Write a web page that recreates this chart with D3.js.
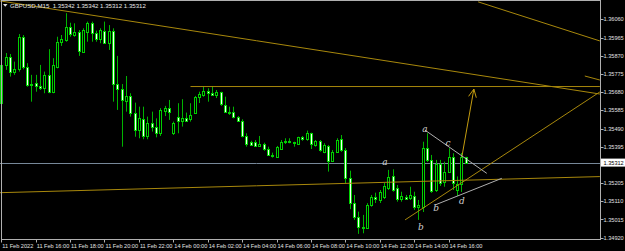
<!DOCTYPE html>
<html>
<head>
<meta charset="utf-8">
<script src="https://cdn.jsdelivr.net/npm/d3@7"></script>
<style>
  body { margin: 0; background: #000; }
  svg { display: block; }
  text { font-family: "Liberation Sans", Arial, sans-serif; }
</style>
</head>
<body>
<div id="chart"></div>
<script>
// GBPUSD M15, 11 Feb 2022 14:00 .. 14 Feb 2022 17:00 (one entry per bar)
const opens = [1.35623,1.35822,1.35865,1.35787,1.35799,1.35969,1.35810,1.35722,1.35726,1.35712,
  1.35700,1.35770,1.35682,1.35813,1.35943,1.35952,1.36022,1.35978,1.35994,1.35891,
  1.35995,1.36039,1.35987,1.35957,1.36001,1.35938,1.36001,1.35722,1.35695,1.35635,
  1.35660,1.35570,1.35482,1.35538,1.35451,1.35517,1.35496,1.35465,1.35583,1.35596,
  1.35468,1.35549,1.35528,1.35543,1.35538,1.35570,1.35653,1.35665,1.35686,1.35677,
  1.35665,1.35679,1.35613,1.35578,1.35578,1.35549,1.35531,1.35451,1.35418,1.35420,
  1.35399,1.35409,1.35383,1.35352,1.35343,1.35385,1.35418,1.35426,1.35421,1.35409,
  1.35444,1.35435,1.35465,1.35404,1.35425,1.35369,1.35400,1.35321,1.35369,1.35434,
  1.35378,1.35230,1.35100,1.35027,1.34978,1.34972,1.35091,1.35131,1.35117,1.35133,
  1.35180,1.35242,1.35178,1.35121,1.35131,1.35126,1.35138,1.35079,1.35082,1.35387,
  1.35326,1.35169,1.35305,1.35213,1.35265,1.35343,1.35170,1.35200,1.35342];
const highs = [1.35837,1.35884,1.35879,1.35839,1.35983,1.35978,1.35831,1.35770,1.35770,1.35822,
  1.35787,1.35904,1.35857,1.35969,1.35978,1.36092,1.36042,1.36039,1.36004,1.36013,
  1.36048,1.36048,1.36001,1.36013,1.36048,1.36030,1.36013,1.35869,1.35722,1.35764,
  1.35674,1.35625,1.35604,1.35604,1.35552,1.35578,1.35543,1.35596,1.35608,1.35639,
  1.35526,1.35622,1.35643,1.35573,1.35622,1.35660,1.35682,1.35708,1.35700,1.35712,
  1.35691,1.35682,1.35656,1.35604,1.35604,1.35555,1.35538,1.35465,1.35426,1.35430,
  1.35451,1.35416,1.35395,1.35364,1.35399,1.35430,1.35439,1.35439,1.35421,1.35447,
  1.35451,1.35479,1.35468,1.35430,1.35430,1.35413,1.35404,1.35378,1.35439,1.35456,
  1.35388,1.35270,1.35143,1.35056,1.35039,1.35100,1.35143,1.35155,1.35169,1.35206,
  1.35274,1.35277,1.35195,1.35160,1.35143,1.35186,1.35160,1.35117,1.35421,1.35465,
  1.35352,1.35326,1.35326,1.35317,1.35387,1.35361,1.35240,1.35362,1.35342];
const lows = [1.35597,1.35796,1.35761,1.35770,1.35787,1.35799,1.35708,1.35630,1.35682,1.35691,
  1.35674,1.35674,1.35674,1.35804,1.35921,1.35943,1.35969,1.35969,1.35869,1.35886,
  1.35943,1.35943,1.35943,1.35935,1.35935,1.35900,1.35630,1.35587,1.35395,1.35578,
  1.35552,1.35447,1.35439,1.35434,1.35434,1.35474,1.35444,1.35451,1.35555,1.35535,
  1.35456,1.35465,1.35500,1.35526,1.35526,1.35566,1.35623,1.35656,1.35630,1.35660,
  1.35649,1.35608,1.35573,1.35561,1.35543,1.35526,1.35444,1.35395,1.35399,1.35395,
  1.35395,1.35374,1.35347,1.35338,1.35338,1.35378,1.35409,1.35413,1.35395,1.35404,
  1.35426,1.35426,1.35383,1.35395,1.35369,1.35361,1.35265,1.35315,1.35362,1.35368,
  1.35204,1.35069,1.35013,1.34940,1.34943,1.34969,1.35082,1.35101,1.35101,1.35122,
  1.35169,1.35160,1.35108,1.35108,1.35117,1.35117,1.35065,1.35013,1.35054,1.35315,
  1.35154,1.35159,1.35190,1.35186,1.35258,1.35169,1.35138,1.35159,1.35312];
const closes = [1.35822,1.35865,1.35787,1.35799,1.35966,1.35810,1.35717,1.35717,1.35712,1.35700,
  1.35770,1.35682,1.35822,1.35943,1.35956,1.36022,1.35983,1.35994,1.35896,1.36004,
  1.36039,1.35987,1.35957,1.36004,1.35938,1.36001,1.35722,1.35695,1.35639,1.35660,
  1.35570,1.35482,1.35543,1.35451,1.35517,1.35500,1.35468,1.35587,1.35599,1.35575,
  1.35517,1.35531,1.35545,1.35529,1.35561,1.35653,1.35670,1.35686,1.35676,1.35665,
  1.35681,1.35618,1.35578,1.35573,1.35549,1.35531,1.35451,1.35408,1.35404,1.35400,
  1.35409,1.35383,1.35352,1.35347,1.35392,1.35420,1.35425,1.35418,1.35416,1.35444,
  1.35435,1.35465,1.35409,1.35426,1.35378,1.35404,1.35321,1.35369,1.35430,1.35378,
  1.35230,1.35100,1.35027,1.34978,1.34972,1.35091,1.35131,1.35121,1.35160,1.35190,
  1.35237,1.35169,1.35121,1.35138,1.35124,1.35143,1.35082,1.35091,1.35387,1.35326,
  1.35166,1.35305,1.35204,1.35265,1.35343,1.35204,1.35200,1.35343,1.35312];

const timeTickBars = [0, 8, 16, 24, 32, 40, 48, 56, 64, 72, 80, 88, 96, 104];
const timeTickLabels = ['11 Feb 2022', '11 Feb 16:00', '11 Feb 18:00', '11 Feb 20:00', '11 Feb 22:00',
  '14 Feb 00:00', '14 Feb 02:00', '14 Feb 04:00', '14 Feb 06:00', '14 Feb 08:00',
  '14 Feb 10:00', '14 Feb 12:00', '14 Feb 14:00', '14 Feb 16:00'];
const priceTicks = [1.36060, 1.35965, 1.35870, 1.35775, 1.35680, 1.35585, 1.35490, 1.35395,
  1.35205, 1.35110, 1.35015, 1.34920];
const bidPrice = 1.35312;
const legendText = 'GBPUSD,M15  1.35342 1.35342 1.35312 1.35312';

// drawn objects, anchors as [bar, price]
const goldLines = [
  [[-0.3, 1.36156], [139.2, 1.35670]],
  [[110.9, 1.36151], [139.2, 1.35947]],
  [[135.7, 1.35764], [139.2, 1.35743]],
  [[44, 1.35709], [139.2, 1.35709]],
  [[93.9, 1.35013], [139.2, 1.35681]],
  [[-0.3, 1.35155], [139.2, 1.35239]]
];
const arrowLine = [[107.1, 1.35341], [109.9, 1.35696]];
const waveLines = [
  [[98.5, 1.35482], [112.9, 1.35256]],
  [[100.9, 1.35091], [116.4, 1.35230]]
];
const waveLabelBars = [98.5, 103.9, 101.1, 107.1, 89.2, 97.6];
const waveLabelPrices = [1.35488, 1.35415, 1.35077, 1.35113, 1.35315, 1.34976];
const waveLabelTexts = ['a', 'c', 'b', 'd', 'a', 'b'];

class CandleChart {
  constructor(_config) {
    this.config = {
      parentElement: _config.parentElement,
      containerWidth: 625,
      containerHeight: 251,
      plotRight: 600.5,
      plotBottom: 239.5,
      barSpacing: 4.3,
      firstBarX: 1.3,
      axisFont: '5.6px',
      legendFont: '6.1px'
    };
    this.initVis();
  }

  initVis() {
    let vis = this;
    vis.svg = d3.select(vis.config.parentElement)
      .append('svg')
      .attr('width', vis.config.containerWidth)
      .attr('height', vis.config.containerHeight)
      .style('background', '#000');

    vis.xScale = d3.scaleLinear()
      .domain([0, 1])
      .range([vis.config.firstBarX, vis.config.firstBarX + vis.config.barSpacing]);

    vis.yScale = d3.scaleLinear()
      .domain([1.34920, 1.36060])
      .range([237.7, 19.3]);

    vis.svg.append('clipPath').attr('id', 'plot-clip')
      .append('rect')
      .attr('x', 0).attr('y', 0)
      .attr('width', vis.config.plotRight)
      .attr('height', vis.config.plotBottom);

    vis.plot = vis.svg.append('g').attr('clip-path', 'url(#plot-clip)');
    vis.renderVis();
  }

  renderVis() {
    let vis = this;
    const x = vis.xScale, y = vis.yScale;
    const bars = d3.range(opens.length);
    const fs = vis.config.axisFont;

    // bid line
    vis.plot.append('line')
      .attr('x1', 0).attr('x2', vis.config.plotRight)
      .attr('y1', Math.round(y(bidPrice)) + 0.5).attr('y2', Math.round(y(bidPrice)) + 0.5)
      .attr('stroke', '#778899');

    // candles
    const candle = vis.plot.append('g').selectAll('g')
      .data(bars)
      .join('g');

    candle.append('line')
      .attr('x1', i => Math.round(x(i)) + 0.5)
      .attr('x2', i => Math.round(x(i)) + 0.5)
      .attr('y1', i => y(highs[i]))
      .attr('y2', i => y(lows[i]))
      .attr('stroke', '#00b400');

    candle.append('rect')
      .attr('x', i => Math.round(x(i)) - 0.5)
      .attr('width', 2)
      .attr('y', i => Math.round(y(Math.max(opens[i], closes[i]))) + 0.5)
      .attr('height', i => Math.max(0, Math.round(y(Math.min(opens[i], closes[i]))) - Math.round(y(Math.max(opens[i], closes[i])))))
      .attr('fill', i => closes[i] < opens[i] ? '#f4fff4' : '#000000')
      .attr('stroke', '#00d000');

    // trend lines
    vis.plot.append('g').selectAll('line')
      .data(goldLines)
      .join('line')
      .attr('x1', d => x(d[0][0])).attr('y1', d => y(d[0][1]))
      .attr('x2', d => x(d[1][0])).attr('y2', d => y(d[1][1]))
      .attr('stroke', '#a8880c')
      .attr('stroke-width', 1);

    // arrow
    const ax1 = x(arrowLine[0][0]), ay1 = y(arrowLine[0][1]);
    const ax2 = x(arrowLine[1][0]), ay2 = y(arrowLine[1][1]);
    const ang = Math.atan2(ay2 - ay1, ax2 - ax1);
    const head = 9, spread = 0.45;
    vis.plot.append('path')
      .attr('d', `M${ax1},${ay1}L${ax2},${ay2}` +
        `M${ax2 - head * Math.cos(ang - spread)},${ay2 - head * Math.sin(ang - spread)}L${ax2},${ay2}` +
        `L${ax2 - head * Math.cos(ang + spread)},${ay2 - head * Math.sin(ang + spread)}`)
      .attr('fill', 'none')
      .attr('stroke', '#c49c10');

    // wave triangle
    vis.plot.append('g').selectAll('line')
      .data(waveLines)
      .join('line')
      .attr('x1', d => x(d[0][0])).attr('y1', d => y(d[0][1]))
      .attr('x2', d => x(d[1][0])).attr('y2', d => y(d[1][1]))
      .attr('stroke', '#b0b0b0');

    vis.plot.append('g').selectAll('text')
      .data(waveLabelTexts)
      .join('text')
      .attr('x', (d, i) => x(waveLabelBars[i]))
      .attr('y', (d, i) => y(waveLabelPrices[i]))
      .attr('text-anchor', 'middle')
      .attr('dominant-baseline', 'central')
      .style('font-family', '"DejaVu Serif", serif')
      .style('font-style', 'italic')
      .style('font-size', '9px')
      .attr('fill', '#d0d0d0')
      .text(d => d);

    // frame
    vis.svg.append('rect')
      .attr('x', 1.5).attr('y', 0.5)
      .attr('width', vis.config.plotRight - 1.5)
      .attr('height', vis.config.plotBottom - 0.5)
      .attr('fill', 'none')
      .attr('stroke', '#b0b0b0');

    // price axis
    const pAxis = vis.svg.append('g');
    pAxis.selectAll('line')
      .data(priceTicks)
      .join('line')
      .attr('x1', vis.config.plotRight).attr('x2', vis.config.plotRight + 3)
      .attr('y1', d => Math.round(y(d)) + 0.5).attr('y2', d => Math.round(y(d)) + 0.5)
      .attr('stroke', '#b0b0b0');
    pAxis.selectAll('text')
      .data(priceTicks)
      .join('text')
      .attr('x', 603.5)
      .attr('y', d => y(d) + 2)
      .style('font-size', fs)
      .attr('fill', '#e0e0e0')
      .text(d => d3.format('.5f')(d));

    const by = y(bidPrice);
    pAxis.append('rect')
      .attr('x', 601).attr('y', by - 4)
      .attr('width', 24).attr('height', 8)
      .attr('fill', '#ffffff');
    pAxis.append('text')
      .attr('x', 603.5).attr('y', by + 2)
      .style('font-size', fs)
      .attr('fill', '#000')
      .text(d3.format('.5f')(bidPrice));

    // time axis
    const tAxis = vis.svg.append('g');
    tAxis.selectAll('line')
      .data(timeTickBars)
      .join('line')
      .attr('x1', d => Math.round(x(d)) + 0.5).attr('x2', d => Math.round(x(d)) + 0.5)
      .attr('y1', vis.config.plotBottom).attr('y2', vis.config.plotBottom + 3)
      .attr('stroke', '#b0b0b0');
    tAxis.selectAll('text')
      .data(timeTickLabels)
      .join('text')
      .attr('x', (d, i) => x(timeTickBars[i]) + 1)
      .attr('y', 248)
      .style('font-size', fs)
      .attr('fill', '#e0e0e0')
      .text(d => d);

    // legend
    vis.svg.append('path')
      .attr('d', 'M3,4L7.5,4L5.25,6.8Z')
      .attr('fill', '#e0e0e0');
    vis.svg.append('text')
      .attr('x', 10).attr('y', 8.3)
      .style('font-size', vis.config.legendFont)
      .style('white-space', 'pre')
      .attr('fill', '#e8e8e8')
      .text(legendText);
  }
}

const chart = new CandleChart({ parentElement: '#chart' });
</script>
</body>
</html>
